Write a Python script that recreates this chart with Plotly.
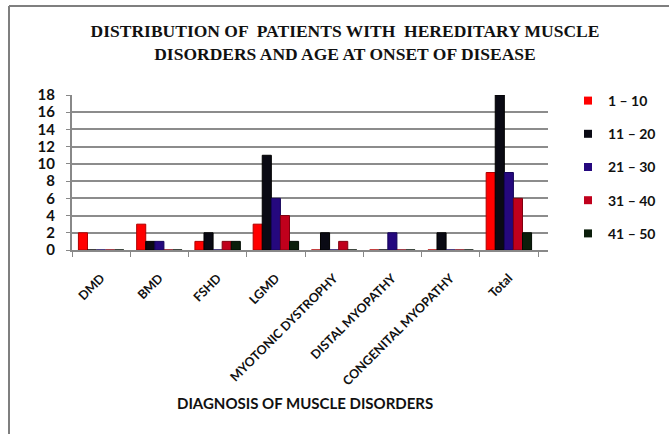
import plotly.graph_objects as go

categories = ["DMD", "BMD", "FSHD", "LGMD", "MYOTONIC DYSTROPHY",
              "DISTAL MYOPATHY", "CONGENITAL MYOPATHY", "Total"]
series_names = ["1 – 10", "11 – 20", "21 – 30", "31 – 40", "41 – 50"]
age_1_10 = [2, 3, 1, 3, 0, 0, 0, 9]
age_11_20 = [0, 1, 2, 11, 2, 0, 2, 18]
age_21_30 = [0, 1, 0, 6, 0, 2, 0, 9]
age_31_40 = [0, 0, 1, 4, 1, 0, 0, 6]
age_41_50 = [0, 0, 1, 1, 0, 0, 0, 2]
y_ticks = [0, 2, 4, 6, 8, 10, 12, 14, 16, 18]

series = [age_1_10, age_11_20, age_21_30, age_31_40, age_41_50]
colors = ["#FF0000", "#0A0A14", "#25087E", "#C0001C", "#0B1E0B"]
line_colors = ["#B00000", "#000000", "#14045A", "#80000F", "#000A00"]

fig = go.Figure()
for name, vals, c, lc in zip(series_names, series, colors, line_colors):
    fig.add_trace(go.Bar(x=categories, y=vals, name=name, showlegend=False,
                         marker=dict(color=c, line=dict(color=lc, width=1))))
    fig.add_trace(go.Scatter(x=[None], y=[None], mode="markers", name=name,
                             legendgroup=name,
                             marker=dict(symbol="square", size=8, color=c)))

W, H = 669, 434
L, R, T, B = 72, 548, 95, 250
pw, ph = R - L, B - T
cat_w = (538 - L) / 8

def px(x):
    return (x - L) / pw

def py(y):
    return (B - y) / ph

fig.update_layout(
    width=W, height=H,
    margin=dict(l=L, r=W - R, t=T, b=H - B, autoexpand=False),
    paper_bgcolor="white", plot_bgcolor="white",
    barmode="group", bargap=0.22, bargroupgap=0.0,
    font=dict(family="Lato, Arial, sans-serif", color="#111111"),
    title=dict(
        text="DISTRIBUTION OF  PATIENTS WITH  HEREDITARY MUSCLE<br>DISORDERS AND AGE AT ONSET OF DISEASE",
        font=dict(family="Liberation Serif", size=17.5, color="#111111", weight="bold"),
        xref="container", x=345 / W, xanchor="center",
        yref="container", y=1 - 37 / H, yanchor="top",
    ),
    xaxis=dict(
        type="category", range=[-0.5, 7.5 + 10 / cat_w], automargin=False,
        tickangle=-45, tickfont=dict(size=12.5, weight="bold", color="#111111"),
        showline=True, linecolor="#888888", linewidth=2,
        ticks="outside", tickson="boundaries", ticklen=5, tickcolor="#888888",
        ticklabelstandoff=14, showgrid=False,
    ),
    yaxis=dict(
        range=[0, 18], tickvals=y_ticks, automargin=False,
        tickfont=dict(size=15, weight="bold", color="#111111"),
        showgrid=True, gridcolor="#8C8C8C", gridwidth=2,
        showline=True, linecolor="#888888", linewidth=2,
        ticks="outside", ticklen=4, tickcolor="#888888",
        ticklabelstandoff=8, zeroline=False,
    ),
    legend=dict(
        x=px(568), y=py(85), xanchor="left", yanchor="top",
        font=dict(size=14, weight="bold", color="#111111"),
        tracegroupgap=12, bgcolor="rgba(0,0,0,0)",
    ),
    showlegend=True,
)

fig.add_annotation(
    text="DIAGNOSIS OF MUSCLE DISORDERS", xref="paper", yref="paper",
    x=px(305), y=py(403), xanchor="center", yanchor="middle",
    showarrow=False, font=dict(size=15, weight="bold", color="#111111"),
)

border = dict(color="#7F7F7F", width=2)
fig.add_shape(type="line", xref="paper", yref="paper",
              x0=px(9), y0=py(6), x1=px(9), y1=py(440), line=border)
fig.add_shape(type="line", xref="paper", yref="paper",
              x0=px(9), y0=py(6), x1=px(680), y1=py(6), line=border)

fig.write_html("out.html", config={"displayModeBar": False},
               post_script="document.body.style.margin='0';")
